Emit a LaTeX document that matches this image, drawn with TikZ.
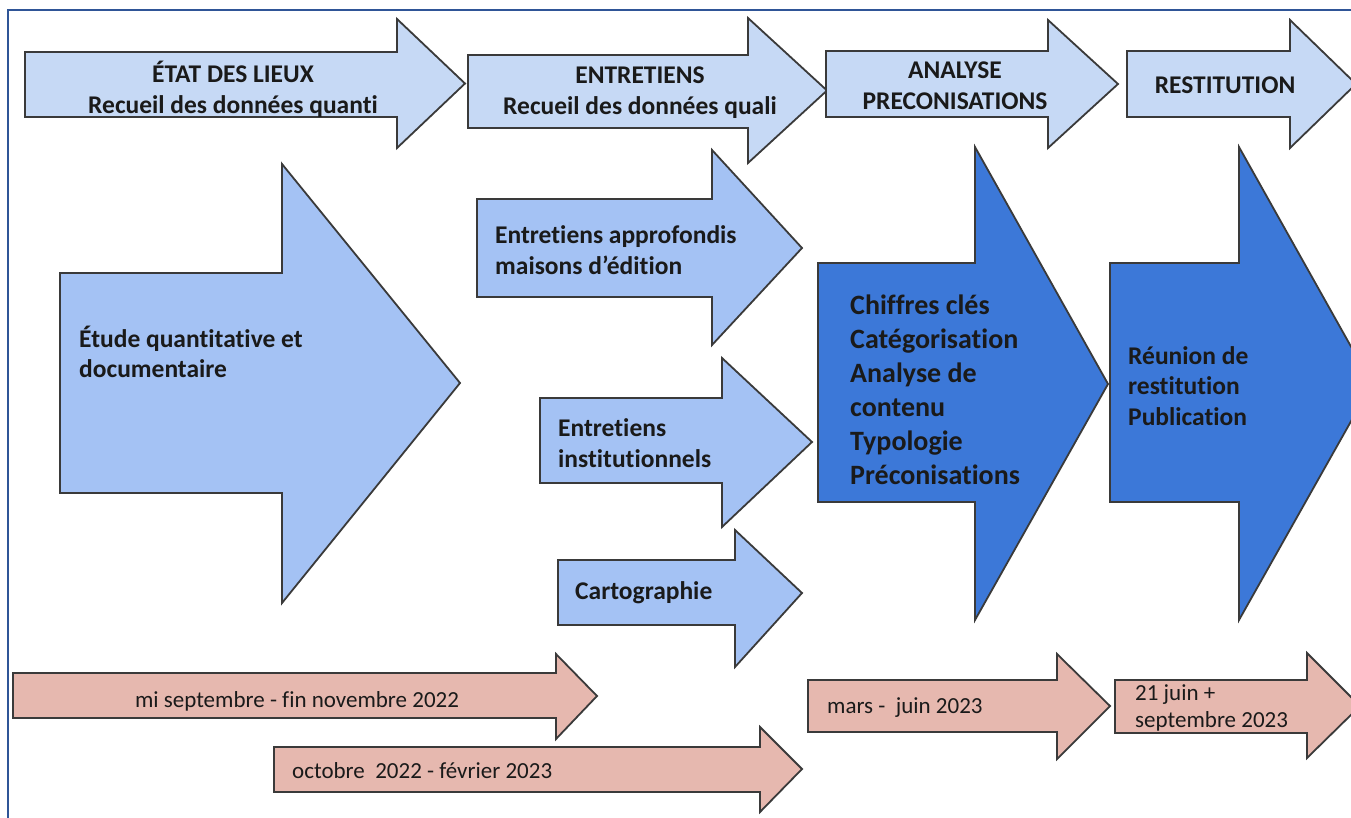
\documentclass[tikz,border=0pt]{standalone}
\usepackage{fontspec}
\setmainfont{Carlito}[Ligatures={NoCommon,NoRequired,NoContextual}, Contextuals={NoAlternate}]
\newcommand\tI{t\kern0pt i}
\definecolor{topblue}{HTML}{C6D9F5}
\definecolor{midblue}{HTML}{A4C2F4}
\definecolor{darkblue}{HTML}{3C78D8}
\definecolor{pinkfill}{HTML}{E6B8AF}
\definecolor{framecol}{HTML}{2F5597}
\definecolor{edgecol}{HTML}{3A3A3A}
\definecolor{txt}{HTML}{1A1A1A}
\tikzset{
  arr/.style={draw=edgecol, line width=1.8pt, line join=miter},
  hd/.style={inner sep=0pt, align=center, text=txt, font=\fontsize{25.5}{31}\selectfont\bfseries},
  midtxt/.style={inner sep=0pt, align=left, anchor=west, text=txt, font=\fontsize{25.5}{30.5}\selectfont\bfseries},
  darktxt/.style={inner sep=0pt, align=left, anchor=west, text=txt, font=\fontsize{28}{34}\selectfont\bfseries},
  pinktxt/.style={inner sep=0pt, align=left, text=txt, font=\fontsize{23}{27}\selectfont},
}
\begin{document}
\begin{tikzpicture}[x=1pt,y=-1pt]
\useasboundingbox (0,0) rectangle (1351,817);
\clip (0,0) rectangle (1351,817);
\fill[white] (0,0) rectangle (1351,817);
% frame
\draw[framecol, line width=2.4pt] (8,830) -- (8,10) -- (1360,10);

% top row
\draw[arr, fill=topblue] (25,52) -- (397,52) -- (397,19) -- (465,83.5) -- (397,148) -- (397,117) -- (25,117) -- cycle;
\draw[arr, fill=topblue] (468,55) -- (748,55) -- (748,18) -- (827,90.5) -- (748,163) -- (748,128) -- (468,128) -- cycle;
\draw[arr, fill=topblue] (826,51) -- (1048,51) -- (1048,20) -- (1118,84) -- (1048,148) -- (1048,117) -- (826,117) -- cycle;
\draw[arr, fill=topblue] (1127,51) -- (1290,51) -- (1290,20) -- (1356,84) -- (1290,148) -- (1290,117) -- (1127,117) -- cycle;

\node[hd] (etat) at (233,89) {ÉTAT DES LIEUX\\Recueil des données quan\tI};
\node[hd] (entr) at (640,93) {ENTRETIENS\\Recueil des données quali};
\node[hd] (anal) at (955,86) {ANALYSE\\PRECONISATIONS};
\node[hd] (rest) at (1225,85) {RESTITUTION};

% middle row
\draw[arr, fill=midblue] (60,273) -- (282,273) -- (282,164) -- (460,383) -- (282,603) -- (282,493) -- (60,493) -- cycle;
\draw[arr, fill=midblue] (477,199) -- (712,199) -- (712,150) -- (802,248) -- (712,345) -- (712,297) -- (477,297) -- cycle;
\draw[arr, fill=midblue] (540,398) -- (722,398) -- (722,358) -- (812,442) -- (722,527) -- (722,483) -- (540,483) -- cycle;
\draw[arr, fill=midblue] (558,560) -- (735,560) -- (735,530) -- (802,593) -- (735,667) -- (735,625) -- (558,625) -- cycle;

\node[midtxt] (etude) at (79,352) {Étude quan\tI ta\tI ve et\\documentaire};
\node[midtxt] (appro) at (495,250) {Entre\tI ens approfondis\\maisons d’édi\tI on};
\node[midtxt] (inst) at (558,443) {Entre\tI ens\\ins\tI tu\tI onnels};
\node[midtxt] (carto) at (575,593) {Cartographie};

% dark arrows
\draw[arr, fill=darkblue] (818,263) -- (975,263) -- (975,147) -- (1108,384) -- (975,620) -- (975,502) -- (818,502) -- cycle;
\draw[arr, fill=darkblue] (1110,263) -- (1239,263) -- (1239,147) -- (1372,384) -- (1239,620) -- (1239,502) -- (1110,502) -- cycle;

\node[darktxt] (chif) at (850,390) {Chiffres clés\\Catégorisa\tI on\\Analyse de\\contenu\\Typologie\\Préconisa\tI ons};
\node[midtxt] (reun) at (1128,386) {Réunion de\\res\tI tu\tI on\\Publica\tI on};

% pink timeline arrows
\draw[arr, fill=pinkfill] (13,673) -- (556,673) -- (556,654) -- (597,696) -- (556,739) -- (556,718) -- (13,718) -- cycle;
\draw[arr, fill=pinkfill] (274,747) -- (760,747) -- (760,727) -- (802,769) -- (760,812) -- (760,792) -- (274,792) -- cycle;
\draw[arr, fill=pinkfill] (808,680) -- (1057,680) -- (1057,654) -- (1110,706) -- (1057,759) -- (1057,732) -- (808,732) -- cycle;
\draw[arr, fill=pinkfill] (1115,680) -- (1307,680) -- (1307,653) -- (1360,706) -- (1307,758) -- (1307,733) -- (1115,733) -- cycle;

\node[pinktxt] (d1) at (297,701) {mi septembre - fin novembre 2022};
\node[pinktxt, anchor=west] (d2) at (292,771) {octobre\ \ 2022 - février 2023};
\node[pinktxt, anchor=west] (d3) at (827,708) {mars -\ \ juin 2023};
\node[pinktxt, anchor=west] (d4) at (1135,708) {21 juin +\\septembre 2023};
\end{tikzpicture}
\end{document}
